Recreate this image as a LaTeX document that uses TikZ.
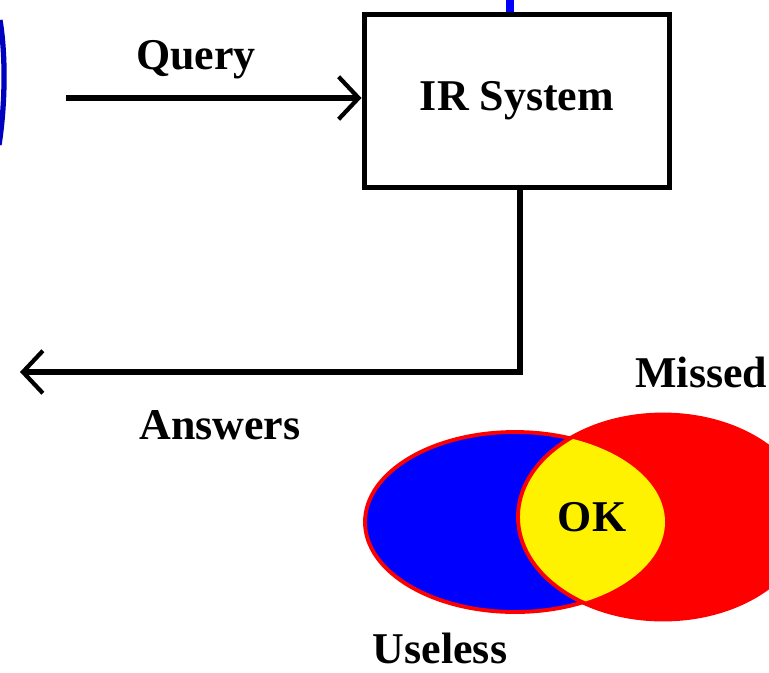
\documentclass[tikz,border=0pt]{standalone}
\usepackage{fontspec}
\setmainfont{Liberation Serif}
\usetikzlibrary{arrows.meta}
\tikzset{
  lbl/.style={font=\bfseries\fontsize{25}{30}\selectfont, inner sep=0pt},
  sysbox/.style={draw, line width=3.4pt, minimum width=6.1cm, minimum height=3.46cm,
    font=\bfseries\fontsize{25}{30}\selectfont},
  flow/.style={line width=2.9pt, -{Straight Barb[length=0.4cm, width=0.85cm, line width=2.4pt]}}
}
\begin{document}
\begin{tikzpicture}[scale=1.0]
  \useasboundingbox (0,0) rectangle (15.38,-13.44);
  % system box and its inputs
  \node[sysbox] (sys) at (10.34,-2.02) {IR System};
  \coordinate (top) at (10.2,0);
  \draw[blue, line width=4pt] (top) -- (top |- sys.north);
  \draw[blue!75!black, line width=3pt] (0.0,-0.4) .. controls (0.13,-1.2) and (0.09,-2.2) .. (-0.02,-2.9);
  \coordinate (qin) at (1.32,-1.96);
  \draw[flow] (qin) -- (qin -| sys.west);
  \node[lbl] (query) at (3.92,-1.2) {Query};
  % answers
  \coordinate (out) at (0.4,-7.44);
  \draw[flow] (sys.south -| 10.4,0) |- (out);
  \node[lbl] (answers) at (4.4,-8.5) {Answers};
  % venn diagram
  \fill[red] (13.26,-10.34) ellipse (2.9 and 2.05);
  \draw[red, fill=blue, line width=2.2pt] (10.3,-10.44) ellipse (3.0 and 1.8);
  \begin{scope}
    \clip (10.3,-10.44) ellipse (3.0 and 1.8);
    \fill[yellow] (13.26,-10.34) ellipse (2.9 and 2.05);
  \end{scope}
  \draw[red, line width=2.2pt] (13.26,-10.34) ellipse (2.9 and 2.05);
  \node[lbl] (ok) at (11.84,-10.34) {OK};
  \node[lbl, anchor=west] (missed) at (12.7,-7.44) {Missed};
  \node[lbl] (useless) at (8.8,-12.97) {Useless};
\end{tikzpicture}
\end{document}
